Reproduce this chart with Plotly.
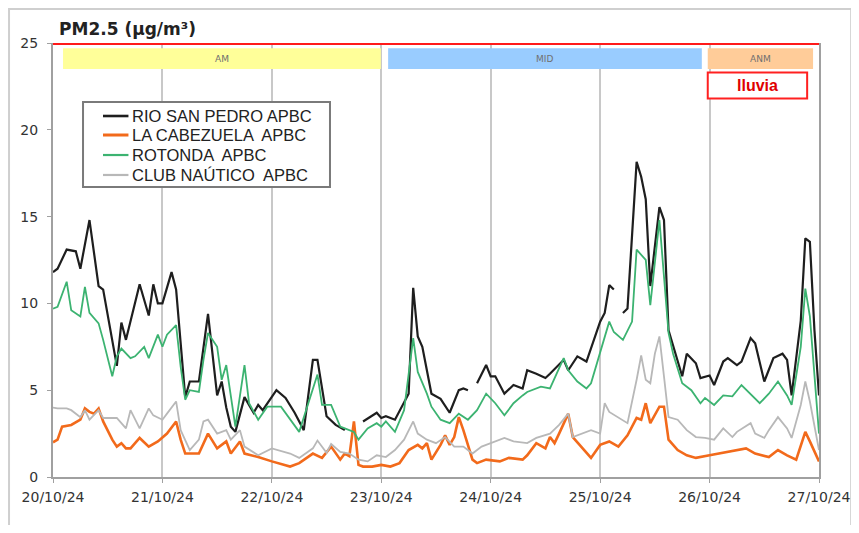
import plotly.graph_objects as go

# ---------------- data (hours since 20/10/24 00:00, µg/m³) ----------------
day_labels = ["20/10/24", "21/10/24", "22/10/24", "23/10/24", "24/10/24", "25/10/24", "26/10/24", "27/10/24"]
day_hours = [0, 24, 48, 72, 96, 120, 144, 168]

rio_h = [0,1,3,5,6,8,10,11,14,15,16,19,21,22,23,24,26,27,29,30,32,34,36,37,38,39,40,42,44,45,
         46,49,51,53,55,57,58,60,62,64,66,68,71,72,73,75,78,79,80,81,83,85,87,89,90,91,92,93,95,96,
         97,99,101,103,104,106,108,109,112,113,115,117,118,120,121,122,123,124,125,126,128,129,130,131,133,134,135,137,138,139,
         141,142,144,145,147,148,150,151,153,154,156,158,160,161,162,164,165,166,167,168]
rio_v = [11.8,12.0,13.1,13.0,12.0,14.8,11.0,10.8,6.4,8.9,7.9,11.1,9.3,11.1,10.0,10.0,11.8,10.8,4.6,5.5,
         5.5,9.4,4.7,5.5,4.0,2.9,2.6,4.6,3.7,4.15,3.85,5.0,4.55,3.7,2.7,6.75,6.75,3.5,3.0,2.7,
         None,3.2,3.7,3.4,3.5,3.3,4.8,10.9,8.1,7.5,4.8,4.5,3.7,5.0,5.1,5.0,None,5.4,6.45,5.8,
         5.8,4.8,5.3,5.1,6.15,5.95,5.7,5.95,6.75,6.15,6.95,6.65,7.4,8.95,9.45,11.05,10.8,None,9.45,9.7,
         18.15,17.3,16.0,11.0,15.55,14.8,8.45,6.65,5.8,7.1,6.55,5.7,5.85,5.3,6.65,6.85,6.45,6.65,8.0,7.7,
         5.5,6.85,7.1,6.75,4.7,9.0,13.75,13.55,8.45,4.7]

cab_h = [0,1,2,4,6,7,8,9,10,11,13,14,15,16,17,19,21,23,25,27,28,29,32,34,36,38,39,41,42,45,
         48,52,54,57,59,61,63,64,65,66,67,68,70,72,74,76,78,80,81,82,83,85,86,87,88,89,90,92,93,95,
         98,100,103,104,106,108,109,110,111,113,114,117,118,120,122,124,126,128,129,130,
         131,133,134,135,137,139,141,144,148,152,154,157,159,161,163,164,165,166,168]
cab_v = [2.0,2.15,2.9,3.0,3.3,3.95,3.75,3.65,3.95,3.2,2.15,1.75,1.95,1.65,1.65,2.25,1.75,2.05,2.5,3.2,
         2.15,1.35,1.35,2.5,1.65,2.05,1.35,2.05,1.35,1.15,0.9,0.6,0.8,1.35,1.1,1.75,1.0,1.35,1.2,3.2,
         0.7,0.6,0.6,0.7,0.6,0.8,1.55,1.85,1.65,1.95,1.0,1.85,2.4,1.85,2.3,3.45,2.7,1.0,0.8,1.0,
         0.9,1.1,1.0,1.25,1.95,1.65,2.3,1.95,2.5,3.65,2.3,1.35,1.1,1.85,2.05,1.75,2.4,3.4,3.3,4.25,
         3.1,4.05,4.05,2.15,1.55,1.25,1.1,1.25,1.45,1.65,1.35,1.15,1.55,1.25,1.0,1.75,2.6,2.05,0.9]

rot_h = [0,1,3,4,6,7,8,10,11,13,14,15,17,18,20,21,23,24,25,27,28,29,30,32,33,34,36,37,38,40,
         42,43,45,47,50,52,54,58,59,61,63,64,66,67,69,71,72,73,75,77,79,80,82,83,85,87,89,91,93,95,
         97,99,101,103,104,107,109,112,113,115,117,118,120,122,123,125,127,128,130,131,
         133,134,135,136,138,140,142,143,145,147,149,151,153,155,157,159,161,162,164,165,166,168]
rot_v = [9.7,9.8,11.25,9.6,9.25,10.95,9.45,8.85,7.9,5.8,6.95,7.4,6.85,6.95,7.5,6.85,8.2,7.5,8.2,8.75,
         6.35,4.45,5.0,4.9,6.75,8.3,7.5,5.6,6.45,2.9,6.45,4.25,3.3,4.05,4.05,3.3,2.6,5.9,4.15,4.15,
         2.9,2.8,2.6,2.15,2.8,3.1,2.9,3.2,2.6,3.85,8.0,6.05,4.8,4.05,3.3,3.1,3.65,3.3,3.85,4.8,
         4.25,3.55,4.25,4.7,4.9,5.2,5.1,6.85,6.15,5.5,5.1,5.4,7.2,8.95,8.35,7.9,8.95,13.1,12.5,9.9,
         14.8,11.75,8.3,7.1,5.4,5.0,4.25,4.55,4.15,4.7,4.65,5.3,4.8,4.25,4.8,5.5,4.7,4.15,7.5,10.85,
         9.25,2.5]

nau_h = [0,1,3,4,6,7,8,10,11,14,16,17,19,21,22,24,25,27,28,30,32,33,34,36,38,39,41,42,45,48,
         52,54,57,58,60,61,63,65,67,69,71,73,75,77,79,80,82,84,86,88,90,92,94,96,99,101,104,106,109,111,
         113,114,116,118,120,121,122,124,126,128,129,130,131,132,133,134,135,137,139,141,
         143,145,147,149,150,153,154,156,157,159,161,162,164,165,166,168]
nau_v = [4.0,3.95,3.95,3.85,3.45,3.85,3.3,3.85,3.4,3.4,2.8,3.85,2.8,3.95,3.55,3.3,3.65,4.35,2.7,1.55,
         2.15,3.2,3.3,2.5,2.7,2.15,2.7,1.75,1.25,1.65,1.35,1.1,1.65,2.1,1.4,1.9,1.45,1.35,1.0,0.9,
         1.25,1.15,1.55,2.15,3.2,2.5,2.15,1.95,2.3,1.75,1.75,1.35,1.75,1.95,2.25,2.05,1.95,2.25,2.5,3.0,
         3.65,2.3,2.5,2.7,2.5,4.25,3.75,3.4,3.1,5.6,7.0,5.6,5.4,7.1,8.1,5.8,3.45,3.3,2.7,2.3,
         2.25,2.15,2.8,2.3,2.6,3.1,2.5,2.25,2.7,3.45,2.8,2.25,4.15,5.5,4.35,1.55]

# time-of-day periods (label, start hour, end hour, colour) and rain period
periods = [("AM", 2.2, 71.9, "#ffff99"), ("MID", 73.5, 142.3, "#99ccff"), ("ANM", 143.6, 166.7, "#ffcc99")]
rain = ("lluvia", 143.6, 165.4)

series = [
    ("RIO SAN PEDRO APBC", rio_h, rio_v, "#1e1e1e", 2.2),
    ("LA CABEZUELA  APBC", cab_h, cab_v, "#f26a1b", 2.6),
    ("ROTONDA  APBC", rot_h, rot_v, "#3cb371", 1.8),
    ("CLUB NAÚTICO  APBC", nau_h, nau_v, "#b8b8b8", 1.8),
]

fig = go.Figure()
for name, h, v, col, w in series:
    fig.add_trace(go.Scatter(x=h, y=v, mode="lines", name=name, showlegend=False,
                             line=dict(color=col, width=w), connectgaps=False))

shapes = []
annotations = []
# outer frame
shapes.append(dict(type="rect", xref="paper", yref="paper", x0=-0.0574, x1=1.042, y0=-0.3, y1=1.0783,
                   line=dict(color="#cfcfcf", width=2), fillcolor="rgba(0,0,0,0)", layer="below"))
# red limit line at top
shapes.append(dict(type="line", xref="x", yref="y", x0=0, x1=168, y0=25, y1=25,
                   line=dict(color="#ff1a1a", width=4), layer="above"))
for lab, s, e, col in periods:
    shapes.append(dict(type="rect", xref="x", yref="y", x0=s, x1=e, y0=23.5, y1=24.7,
                       fillcolor=col, line=dict(width=0), layer="above"))
    annotations.append(dict(x=(s + e) / 2, y=24.1, xref="x", yref="y", text=lab, showarrow=False,
                            font=dict(family="DejaVu Sans", size=9, color="#707070")))
shapes.append(dict(type="rect", xref="x", yref="y", x0=rain[1], x1=rain[2], y0=21.8, y1=23.3,
                   fillcolor="white", line=dict(color="#ff2020", width=2), layer="above"))
annotations.append(dict(x=(rain[1] + rain[2]) / 2, y=22.55, xref="x", yref="y", text="<b>" + rain[0] + "</b>",
                        showarrow=False, font=dict(family="Liberation Sans", size=16, color="#e00000")))
# title
annotations.append(dict(x=0.005, y=1.032, xref="paper", yref="paper", xanchor="left", yanchor="middle",
                        text="<b>PM2.5 (µg/m³)</b>", showarrow=False,
                        font=dict(family="DejaVu Sans", size=17, color="#222222")))

# legend box (drawn as a framed panel, one row per series)
lg_x0, lg_x1, lg_y0, lg_y1 = 0.0392, 0.3616, 0.668, 0.864
shapes.append(dict(type="rect", xref="paper", yref="paper", x0=lg_x0, x1=lg_x1, y0=lg_y0, y1=lg_y1,
                   fillcolor="white", line=dict(color="#7a7a7a", width=2), layer="above"))
row_y = [0.8318, 0.788, 0.7419, 0.6959]
for (name, h, v, col, w), ry in zip(series, row_y):
    shapes.append(dict(type="line", xref="paper", yref="paper", x0=0.0653, x1=0.0985, y0=ry, y1=ry,
                       line=dict(color=col, width=w + 0.4), layer="above"))
    annotations.append(dict(x=0.1, y=ry, xref="paper", yref="paper", xanchor="left", yanchor="middle",
                            text=name, showarrow=False,
                            font=dict(family="Liberation Sans", size=16.5, color="#222222")))

# page body adds 8px around the figure: 843 + 16 = 859, 517 + 16 = 533
fig.update_layout(
    width=843, height=517,
    margin=dict(l=45, r=32, t=35, b=48),
    paper_bgcolor="white", plot_bgcolor="white",
    shapes=shapes, annotations=annotations,
    showlegend=False,
    xaxis=dict(range=[0, 168], tickmode="array", tickvals=day_hours, ticktext=day_labels,
               showgrid=True, gridcolor="#c8c8c8", gridwidth=2, zeroline=False, automargin=False,
               showline=True, linecolor="#a0a0a0", linewidth=2,
               ticks="outside", ticklen=4, tickcolor="#a0a0a0", ticklabelstandoff=2,
               tickfont=dict(family="DejaVu Sans", size=14, color="#333333")),
    yaxis=dict(range=[0, 25], tickmode="array", tickvals=[0, 5, 10, 15, 20, 25],
               showgrid=False, zeroline=False, automargin=False,
               showline=True, mirror=True, linecolor="#a0a0a0", linewidth=2,
               ticks="outside", ticklen=4, tickcolor="#a0a0a0", ticklabelstandoff=6,
               tickfont=dict(family="DejaVu Sans", size=14, color="#333333")),
)

fig.write_html("out.html")
